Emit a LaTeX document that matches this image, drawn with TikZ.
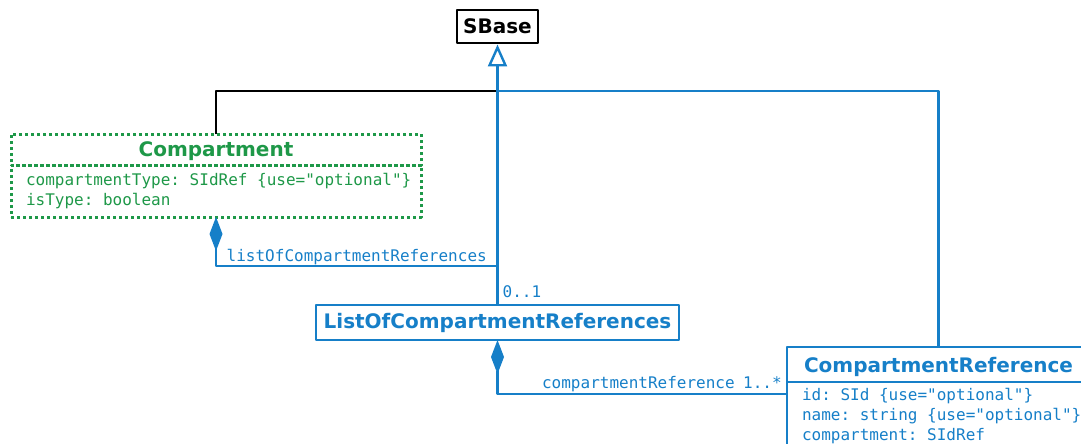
\documentclass[tikz,border=0pt]{standalone}
\usepackage{fontspec}
\usetikzlibrary{positioning,arrows.meta}
\newfontfamily\headfont{DejaVu Sans}
\newfontfamily\attrfont{DejaVu Sans Mono}
\newcommand\attrsize{\fontsize{16}{20}\selectfont}
\newcommand\gap{\hspace*{0.602em}}
\definecolor{umlblue}{RGB}{22,127,200}
\definecolor{umlgreen}{RGB}{30,152,72}
\begin{document}
\begin{tikzpicture}[x=1pt,y=-1pt, line join=round,
	classhead/.style={draw, line width=2.5pt, outer sep=0pt, inner sep=0pt, minimum height=35pt, font=\headfont\bfseries\fontsize{20}{24}\selectfont},
	classbody/.style={draw, line width=2.5pt, outer sep=0pt, inner xsep=15pt, inner ysep=6pt, align=left, font=\attrfont\attrsize},
	role/.style={font=\attrfont\attrsize, text=umlblue, inner sep=2pt},
	link/.style={draw=umlblue, line width=2.4pt},
	owns/.style={link, {Diamond[length=34pt,width=13pt]}-},
	isa/.style={link, -{Triangle[open,length=22pt,width=19pt]}, shorten >=1.5pt}]
	\useasboundingbox (0,0) rectangle (1081,444);
	\clip (0,0) rectangle (1081,444);
	% classes
	\node[classhead, minimum width=81pt, minimum height=33pt] (sbase) at (497.5,26.5) {SBase};
	\node[classhead, umlgreen, line width=3pt, dash pattern=on 3pt off 3pt, minimum width=410pt, minimum height=31pt] (comphead) at (216,149.5) {\raisebox{-7pt}[0pt][0pt]{Compartment}};
	\node[classbody, umlgreen, line width=3pt, dash pattern=on 3pt off 3pt, minimum width=410pt, minimum height=52pt, text width=380pt, below=0pt of comphead] (compbody)
		{compartmentType:\gap SIdRef\gap\{use="optional"\}\\isType:\gap boolean};
	\node[classhead, umlblue, minimum width=363pt] (lor) at (497.5,322.5) {ListOfCompartmentReferences};
	\node[classhead, umlblue, minimum width=303pt] (crefhead) at (938.5,364.5) {\raisebox{-7.5pt}[0pt][0pt]{CompartmentReference}};
	\node[classbody, umlblue, text width=273pt, below=0pt of crefhead] (crefbody)
		{id:\gap SId\gap\{use="optional"\}\\name:\gap string\gap\{use="optional"\}\\compartment:\gap SIdRef};
	% inheritance
	\coordinate (top) at (497.5,91);
	\draw[line width=2.4pt] (comphead.north) |- (top);
	\draw[link] (crefhead.north) |- (top);
	\draw[isa] (lor.north) -- (sbase.south);
	% containment
	\coordinate (k1) at (497.5,266);
	\draw[owns] (compbody.south) |- (k1) node[role, above=-2pt, pos=0.75] {listOfCompartmentReferences};
	\node[role, above right=5pt and 3pt of lor.north] {0..1};
	\coordinate (k2) at (787,394);
	\draw[owns] (lor.south) |- (k2) node[role, above left=3pt, pos=1] (mult) {1..*};
	\node[role, base left=3pt of mult] {compartmentReference};
\end{tikzpicture}
\end{document}
